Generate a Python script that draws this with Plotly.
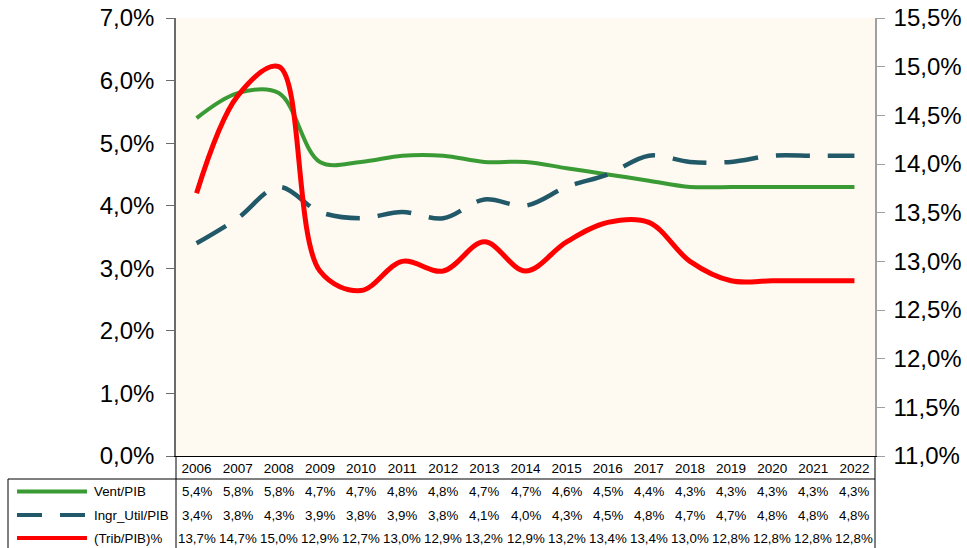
import plotly.graph_objects as go

years = [str(y) for y in range(2006, 2023)]
vent_pib = [5.4, 5.8, 5.8, 4.7, 4.7, 4.8, 4.8, 4.7, 4.7, 4.6, 4.5, 4.4, 4.3, 4.3, 4.3, 4.3, 4.3]
ingr_util_pib = [3.4, 3.8, 4.3, 3.9, 3.8, 3.9, 3.8, 4.1, 4.0, 4.3, 4.5, 4.8, 4.7, 4.7, 4.8, 4.8, 4.8]
trib_pib = [13.7, 14.7, 15.0, 12.9, 12.7, 13.0, 12.9, 13.2, 12.9, 13.2, 13.4, 13.4, 13.0, 12.8, 12.8, 12.8, 12.8]

# name, values, colour, dash (chart), dash (table key), width, axis
series = [
    ("Vent/PIB", vent_pib, "#3A9B35", "solid", "solid", 4, "y"),
    ("Ingr_Util/PIB", ingr_util_pib, "#215968", "34px,18px", "25px,18px", 4.5, "y"),
    ("(Trib/PIB)%", trib_pib, "#FF0000", "solid", "solid", 5, "y2"),
]

# pixel layout of the plot area
W, H = 967, 548
L, R, T, B = 176, 875, 18, 456


def px_x(p):
    return (p - L) / (R - L)


def px_y(p):
    return (B - p) / (B - T)


fig = go.Figure()
for name, vals, color, dash, _, width, ax in series:
    fig.add_trace(go.Scatter(
        x=years, y=[v / 100 for v in vals], name=name, yaxis=ax,
        mode="lines", line=dict(color=color, width=width, dash=dash,
                                shape="spline", smoothing=1),
        hoverinfo="skip",
    ))

font = "Liberation Sans, Arial, sans-serif"
annotations = []
shapes = []
row_y = [491.5, 515, 538]
n = len(years)
for (name, vals, color, _, key_dash, width, ax), ry in zip(series, row_y):
    # legend key inside the table
    shapes.append(dict(type="line", xref="paper", yref="paper",
                       x0=px_x(17), x1=px_x(87), y0=px_y(ry), y1=px_y(ry),
                       line=dict(color=color, width=4, dash=key_dash)))
    annotations.append(dict(xref="paper", yref="paper", x=px_x(92), y=px_y(ry),
                            text=name, showarrow=False, xanchor="left", yanchor="middle",
                            font=dict(size=13.3, color="#000")))
    for i, v in enumerate(vals):
        annotations.append(dict(xref="paper", yref="paper", x=(i + 0.5) / n, y=px_y(ry),
                                text=f"{v:.1f}%".replace(".", ","), showarrow=False,
                                xanchor="center", yanchor="middle",
                                font=dict(size=13.3, color="#000")))

# table borders
tbl = dict(color="#000", width=1)
shapes += [
    dict(type="line", xref="paper", yref="paper", x0=px_x(8), x1=1, y0=px_y(479), y1=px_y(479), line=tbl),
    dict(type="line", xref="paper", yref="paper", x0=px_x(8), x1=px_x(8), y0=px_y(479), y1=px_y(560), line=tbl),
    dict(type="line", xref="paper", yref="paper", x0=0, x1=0, y0=0, y1=px_y(560), line=tbl),
    dict(type="line", xref="paper", yref="paper", x0=1, x1=1, y0=0, y1=px_y(560), line=tbl),
]

fig.update_layout(
    width=W, height=H,
    margin=dict(l=L, r=W - R, t=T, b=H - B),
    plot_bgcolor="#FEFAF2", paper_bgcolor="white",
    separators=",.",
    font=dict(family=font, color="#000"),
    showlegend=False,
    xaxis=dict(type="category", range=[-0.5, 16.5], showgrid=False, zeroline=False,
               showline=True, linecolor="#000", linewidth=1, ticks="", automargin=False,
               tickfont=dict(size=13.5)),
    yaxis=dict(range=[0, 0.07], dtick=0.01, tickformat=".1%", showgrid=False, zeroline=False,
               showline=True, linecolor="#6B6B6B", linewidth=1.5, ticks="outside", automargin=False,
               ticklen=8, tickcolor="#6B6B6B", tickfont=dict(size=24), ticklabelstandoff=7),
    yaxis2=dict(range=[0.11, 0.155], dtick=0.005, tickformat=".1%", overlaying="y", side="right",
                showgrid=False, zeroline=False, showline=True, linecolor="#A0A0A0", linewidth=1.5,
                ticks="outside", ticklen=8, tickcolor="#A0A0A0", tickfont=dict(size=24),
                ticklabelstandoff=4, automargin=False),
    annotations=annotations,
    shapes=shapes,
)

fig.write_html("out.html", config={"displayModeBar": False},
               post_script="document.body.style.margin='0px';")
